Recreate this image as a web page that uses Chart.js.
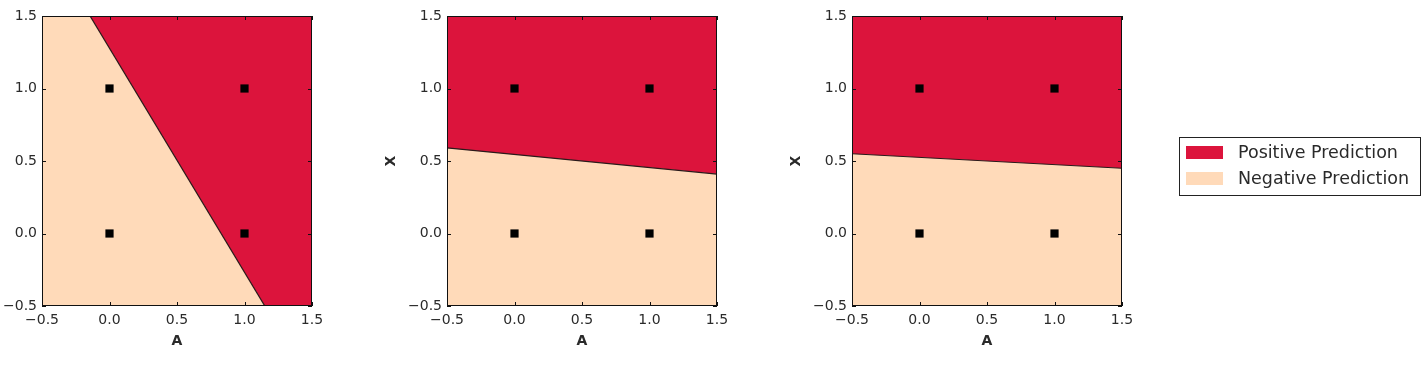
<!DOCTYPE html>
<html>
<head>
<meta charset="utf-8">
<style>
  body { margin: 0; background: #fff; width: 1425px; height: 366px; overflow: hidden; position: relative; }
  canvas { position: absolute; top: 0; }
</style>
<script src="https://cdn.jsdelivr.net/npm/chart.js@4/dist/chart.umd.min.js"></script>
</head>
<body>
<canvas id="c1" width="370" height="366" style="left:-28px"></canvas>
<canvas id="c2" width="370" height="366" style="left:377px"></canvas>
<canvas id="c3" width="643" height="366" style="left:782px"></canvas>
<script>
// training points (A, X)
const pointsA = [0, 0, 1, 1];
const pointsX = [0, 1, 0, 1];
// decision boundary: X value at A = -0.5 and at A = 1.5
const edgeA = [-0.5, 1.5];
const boundary1 = [2.05, -1.04];
const boundary2 = [0.59, 0.41];
const boundary3 = [0.55, 0.45];
const tickValues = [-0.5, 0, 0.5, 1, 1.5];
const legendLabels = ['Positive Prediction', 'Negative Prediction'];

const RED = '#dc143c';
const PEACH = '#ffdab9';

Chart.defaults.font.family = 'DejaVu Sans';
Chart.defaults.font.size = 14;
Chart.defaults.color = '#2a2a2a';

const fmt = v => (v < 0 ? '\u2212' : '') + Math.abs(v).toFixed(1);

// box around the plot area plus inward ticks on all four sides
const framePlugin = {
  id: 'frame',
  afterDatasetsDraw(chart) {
    const { ctx, chartArea: a, scales: { x, y } } = chart;
    ctx.save();
    ctx.strokeStyle = '#111';
    ctx.lineWidth = 1;
    ctx.beginPath();
    tickValues.forEach(v => {
      const px = Math.round(x.getPixelForValue(v)) + 0.5;
      ctx.moveTo(px, a.bottom); ctx.lineTo(px, a.bottom - 4);
      ctx.moveTo(px, a.top); ctx.lineTo(px, a.top + 4);
      const py = Math.round(y.getPixelForValue(v)) + 0.5;
      ctx.moveTo(a.left, py); ctx.lineTo(a.left + 4, py);
      ctx.moveTo(a.right, py); ctx.lineTo(a.right - 4, py);
    });
    ctx.stroke();
    ctx.strokeRect(Math.round(a.left) + 0.5, Math.round(a.top) + 0.5,
                   Math.round(a.width) - 1, Math.round(a.height) - 1);
    ctx.restore();
  }
};

// boxed legend to the right of the last panel
const boxLegend = {
  id: 'boxLegend',
  afterDraw(chart) {
    const ctx = chart.ctx;
    const colors = [RED, PEACH];
    ctx.save();
    ctx.strokeStyle = '#222';
    ctx.lineWidth = 1;
    ctx.strokeRect(397.5, 137.5, 241, 58);
    ctx.font = '17.5px "DejaVu Sans"';
    ctx.textBaseline = 'middle';
    legendLabels.forEach((t, i) => {
      ctx.fillStyle = colors[i];
      ctx.fillRect(404, 146 + i * 26, 37, 13);
      ctx.fillStyle = '#2a2a2a';
      ctx.fillText(t, 456, 153 + i * 26);
    });
    ctx.restore();
  }
};

function makePanel(id, boundary, yTitle, rightPad, plugins) {
  const line = edgeA.map((a, i) => ({ x: a, y: boundary[i] }));
  const pts = pointsA.map((a, i) => ({ x: a, y: pointsX[i] }));
  return new Chart(document.getElementById(id), {
    type: 'line',
    data: {
      datasets: [
        { label: 'points', data: pts, showLine: false, pointStyle: 'rect',
          pointRadius: 5.8, backgroundColor: '#000', borderWidth: 0 },
        { label: legendLabels[0], data: line, fill: 'end', backgroundColor: RED,
          borderColor: '#2a1a1a', borderWidth: 1.2, pointRadius: 0 },
        { label: legendLabels[1], data: line, fill: 'start', backgroundColor: PEACH,
          borderWidth: 0, pointRadius: 0 }
      ]
    },
    options: {
      responsive: false,
      animation: false,
      events: [],
      devicePixelRatio: 1,
      layout: { padding: { top: 16, right: rightPad, left: 0, bottom: 0 } },
      plugins: { legend: { display: false }, tooltip: { enabled: false } },
      scales: {
        x: {
          type: 'linear', min: -0.5, max: 1.5,
          afterBuildTicks: s => { s.ticks = tickValues.map(v => ({ value: v })); },
          afterFit: s => { s.height = 60; },
          grid: { display: false, drawTicks: false },
          border: { display: false },
          ticks: { padding: 6, callback: fmt, maxRotation: 0, autoSkip: false },
          title: { display: true, text: 'A', font: { weight: 'bold', size: 14 },
                   padding: { top: 0, bottom: 16 } }
        },
        y: {
          type: 'linear', min: -0.5, max: 1.5,
          afterBuildTicks: s => { s.ticks = tickValues.map(v => ({ value: v })); },
          afterFit: s => { s.width = 70; },
          grid: { display: false, drawTicks: false },
          border: { display: false },
          ticks: { padding: 5, callback: fmt, autoSkip: false },
          title: { display: !!yTitle, text: yTitle, font: { weight: 'bold', size: 14 },
                   padding: { top: 6, bottom: 0 } }
        }
      }
    },
    plugins: plugins
  });
}

makePanel('c1', boundary1, '', 30, [framePlugin]);
makePanel('c2', boundary2, 'X', 30, [framePlugin]);
makePanel('c3', boundary3, 'X', 303, [framePlugin, boxLegend]);
</script>
</body>
</html>
